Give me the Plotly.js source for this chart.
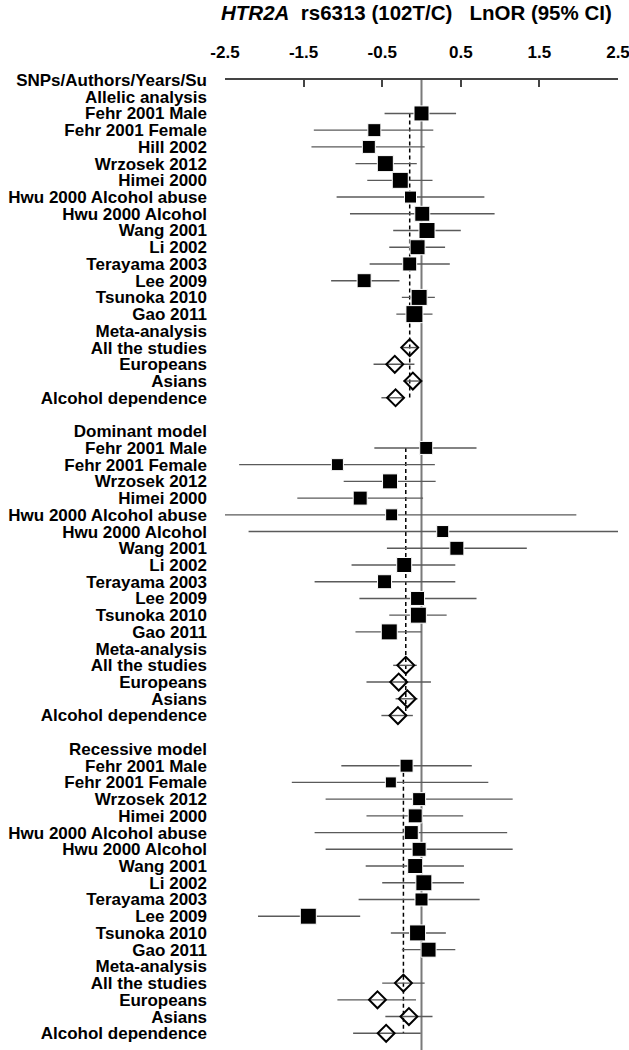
<!DOCTYPE html>
<html>
<head>
<meta charset="utf-8">
<script src="https://cdn.plot.ly/plotly-3.0.1.min.js"></script>
<style>body{margin:0;background:#fff}</style>
</head>
<body>
<div id="forest" style="width:629px;height:1050px"></div>
<script>
var metaGroups = ['All the studies', 'Europeans', 'Asians', 'Alcohol dependence'];

// allelic analysis
var allelicStudies = ['Fehr 2001 Male', 'Fehr 2001 Female', 'Hill 2002', 'Wrzosek 2012', 'Himei 2000',
  'Hwu 2000 Alcohol abuse', 'Hwu 2000 Alcohol', 'Wang 2001', 'Li 2002', 'Terayama 2003', 'Lee 2009',
  'Tsunoka 2010', 'Gao 2011'];
var allelicEst = [0.00, -0.60, -0.67, -0.46, -0.27, -0.14, 0.01, 0.07, -0.05, -0.15, -0.73, -0.03, -0.09];
var allelicLo = [-0.47, -1.37, -1.40, -0.84, -0.69, -1.08, -0.91, -0.36, -0.41, -0.66, -1.15, -0.25, -0.32];
var allelicHi = [0.44, 0.15, 0.04, -0.06, 0.14, 0.80, 0.93, 0.50, 0.30, 0.36, -0.28, 0.17, 0.14];
var allelicSize = [15, 13, 13, 16, 16, 12, 15, 16, 15, 14, 14, 16, 17];
var allelicMetaEst = [-0.15, -0.34, -0.11, -0.33];
var allelicMetaLo = [-0.25, -0.61, -0.23, -0.51];
var allelicMetaHi = [-0.06, -0.09, 0.01, -0.22];

// dominant model
var dominantStudies = ['Fehr 2001 Male', 'Fehr 2001 Female', 'Wrzosek 2012', 'Himei 2000',
  'Hwu 2000 Alcohol abuse', 'Hwu 2000 Alcohol', 'Wang 2001', 'Li 2002', 'Terayama 2003', 'Lee 2009',
  'Tsunoka 2010', 'Gao 2011'];
var dominantEst = [0.06, -1.07, -0.40, -0.78, -0.38, 0.27, 0.45, -0.22, -0.47, -0.05, -0.04, -0.41];
var dominantLo = [-0.60, -2.32, -0.99, -1.58, -2.66, -2.20, -0.44, -0.89, -1.36, -0.79, -0.41, -0.84];
var dominantHi = [0.70, 0.17, 0.18, 0.02, 1.97, 2.70, 1.34, 0.43, 0.43, 0.70, 0.32, 0.00];
var dominantSize = [13, 12, 15, 14, 12, 12, 14, 15, 14, 14, 16, 16];
var dominantMetaEst = [-0.20, -0.29, -0.18, -0.30];
var dominantMetaLo = [-0.36, -0.70, -0.33, -0.51];
var dominantMetaHi = [-0.06, 0.12, -0.05, -0.11];

// recessive model
var recessiveStudies = dominantStudies;
var recessiveEst = [-0.19, -0.39, -0.03, -0.08, -0.13, -0.03, -0.08, 0.03, 0.00, -1.44, -0.05, 0.09];
var recessiveLo = [-1.02, -1.65, -1.22, -0.70, -1.36, -1.22, -0.71, -0.50, -0.80, -2.08, -0.39, -0.25];
var recessiveHi = [0.64, 0.85, 1.16, 0.53, 1.09, 1.16, 0.54, 0.54, 0.74, -0.78, 0.31, 0.43];
var recessiveSize = [13, 11, 13, 14, 14, 14, 15, 16, 13, 16, 16, 15];
var recessiveMetaEst = [-0.23, -0.56, -0.16, -0.45];
var recessiveMetaLo = [-0.50, -1.07, -0.46, -0.87];
var recessiveMetaHi = [0.04, -0.07, 0.14, -0.01];

var sections = [
  {title: 'Allelic analysis', studies: allelicStudies, est: allelicEst, lo: allelicLo, hi: allelicHi, size: allelicSize,
   mEst: allelicMetaEst, mLo: allelicMetaLo, mHi: allelicMetaHi},
  {title: 'Dominant model', studies: dominantStudies, est: dominantEst, lo: dominantLo, hi: dominantHi, size: dominantSize,
   mEst: dominantMetaEst, mLo: dominantMetaLo, mHi: dominantMetaHi},
  {title: 'Recessive model', studies: recessiveStudies, est: recessiveEst, lo: recessiveLo, hi: recessiveHi, size: recessiveSize,
   mEst: recessiveMetaEst, mLo: recessiveMetaLo, mHi: recessiveMetaHi}
];

var tickvals = [0];
var ticktext = ['SNPs/Authors/Years/Su'];
var data = [];
var shapes = [];
var row = 1;

sections.forEach(function(s, k){
  if(k > 0){ row++; } // blank line between models
  tickvals.push(row); ticktext.push(s.title);
  row++;
  var firstRow = row;
  var sy = [], plus = [], minus = [];
  for(var i = 0; i < s.studies.length; i++){
    tickvals.push(row); ticktext.push(s.studies[i]);
    sy.push(row);
    plus.push(s.hi[i] - s.est[i]);
    minus.push(s.est[i] - s.lo[i]);
    row++;
  }
  data.push({
    type: 'scatter', mode: 'markers', x: s.est, y: sy, cliponaxis: false,
    marker: {symbol: 'square', size: s.size, color: 'black', opacity: 1},
    error_x: {type: 'data', symmetric: false, array: plus, arrayminus: minus,
      color: '#5a5a5a', thickness: 1.4, width: 0},
    hoverinfo: 'x', showlegend: false
  });
  tickvals.push(row); ticktext.push('Meta-analysis');
  row++;
  var my = [], mplus = [], mminus = [];
  for(var j = 0; j < metaGroups.length; j++){
    tickvals.push(row); ticktext.push(metaGroups[j]);
    my.push(row);
    mplus.push(s.mHi[j] - s.mEst[j]);
    mminus.push(s.mEst[j] - s.mLo[j]);
    row++;
  }
  data.push({
    type: 'scatter', mode: 'markers', x: s.mEst, y: my, cliponaxis: false,
    marker: {symbol: 'diamond-open', size: 13, color: 'black', opacity: 1, line: {width: 2, color: 'black'}},
    error_x: {type: 'data', symmetric: false, array: mplus, arrayminus: mminus,
      color: '#5a5a5a', thickness: 1.4, width: 0},
    hoverinfo: 'x', showlegend: false
  });
  // pooled estimate
  shapes.push({type: 'line', xref: 'x', yref: 'y', layer: 'below',
    x0: s.mEst[0], x1: s.mEst[0], y0: firstRow, y1: row - 1,
    line: {color: 'black', width: 1.5, dash: '4px,3px'}});
});

shapes.push({type: 'line', xref: 'x', yref: 'paper', layer: 'below',
  x0: 0, x1: 0, y0: 0, y1: 1, line: {color: '#7a7a7a', width: 2}});

var layout = {
  width: 629, height: 1050,
  margin: {l: 225, r: 11, t: 80, b: 0},
  paper_bgcolor: 'white', plot_bgcolor: 'white',
  font: {family: 'Liberation Sans, Arial, sans-serif', color: 'black'},
  title: {
    text: '<i>HTR2A</i>\u00a0\u00a0rs6313 (102T/C)\u00a0\u00a0\u00a0LnOR (95% CI)',
    font: {size: 20.5, weight: 'bold', color: 'black'},
    xref: 'container', yref: 'container', x: 0.662, xanchor: 'center', y: 0.988, yanchor: 'middle'
  },
  xaxis: {
    side: 'top', range: [-2.5, 2.5], tickvals: [-2.5, -1.5, -0.5, 0.5, 1.5, 2.5],
    ticktext: ['-2.5', '-1.5', '-0.5', '0.5', '1.5', '2.5'],
    showline: true, linecolor: '#444', linewidth: 1.5,
    ticks: 'inside', ticklen: 7, tickwidth: 1.5, tickcolor: '#444',
    showgrid: false, zeroline: false, ticklabelstandoff: 13, ticklabeloverflow: 'allow',
    tickfont: {size: 17, weight: 'bold', color: 'black'}, fixedrange: true
  },
  yaxis: {
    range: [58, 0], tickvals: tickvals, ticktext: ticktext,
    showgrid: false, zeroline: false, showline: false, ticks: '',
    ticklabelstandoff: 17,
    tickfont: {size: 17, weight: 'bold', color: 'black'}, fixedrange: true
  },
  shapes: shapes,
  showlegend: false
};

Plotly.newPlot('forest', data, layout, {displayModeBar: false});
</script>
</body>
</html>
